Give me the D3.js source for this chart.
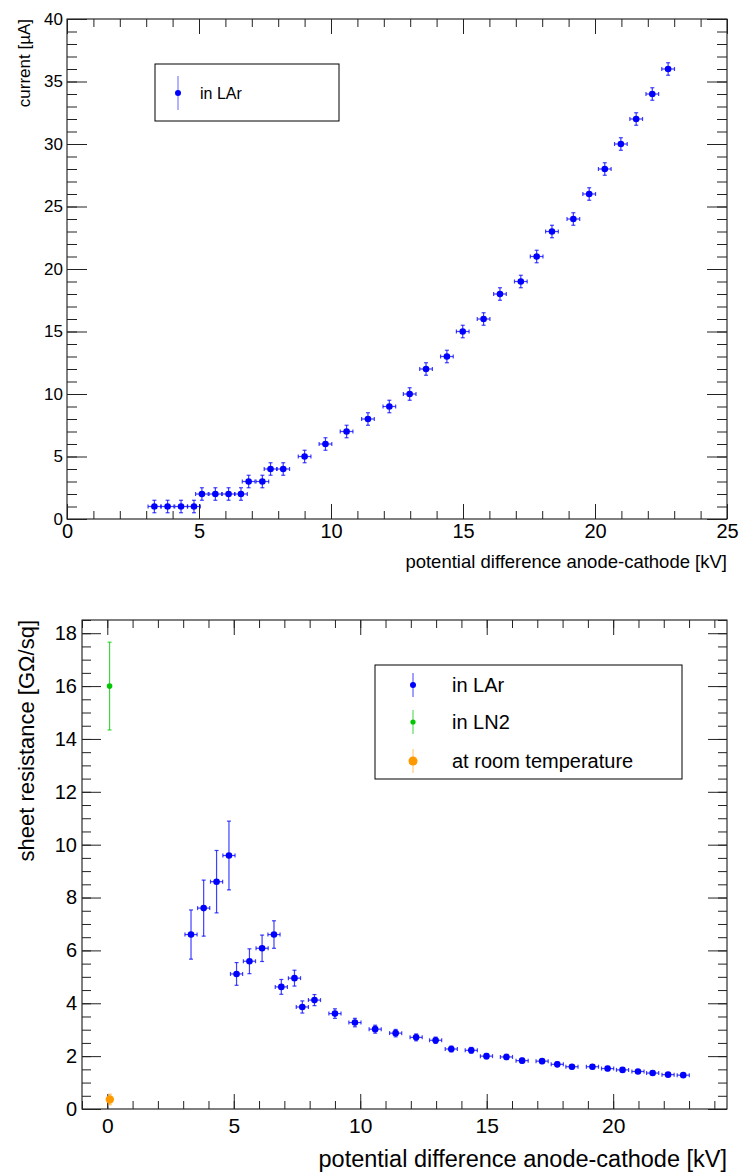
<!DOCTYPE html>
<html>
<head>
<meta charset="utf-8">
<script src="https://cdn.jsdelivr.net/npm/d3@7"></script>
<style>
  body { margin: 0; background: #fff; }
  text { font-family: "Liberation Sans", Arial, sans-serif; fill: #000; }
</style>
</head>
<body>
<div id="chart"></div>
<script>
// Data
const VOLTAGE_LAR = [3.31, 3.81, 4.32, 4.81, 5.11, 5.62, 6.12, 6.59, 6.88, 7.40, 7.71, 8.19,
  9.00, 9.79, 10.59, 11.40, 12.21, 12.98, 13.60, 14.39, 14.99, 15.78, 16.40, 17.19,
  17.79, 18.37, 19.18, 19.78, 20.37, 20.98, 21.56, 22.17, 22.77];
const CURRENT_LAR = [1, 1, 1, 1, 2, 2, 2, 2, 3, 3, 4, 4, 5, 6, 7, 8, 9, 10, 12, 13, 15, 16,
  18, 19, 21, 23, 24, 26, 28, 30, 32, 34, 36];
const VOLTAGE_ERR = 0.24;
const CURRENT_ERR = 0.5;

const RESIST_LAR = [6.60, 7.60, 8.60, 9.59, 5.11, 5.59, 6.08, 6.60, 4.62, 4.95, 3.86, 4.12,
  3.61, 3.27, 3.02, 2.87, 2.71, 2.60, 2.27, 2.22, 2.00, 1.97, 1.83, 1.81, 1.69, 1.60,
  1.60, 1.53, 1.48, 1.42, 1.36, 1.30, 1.28];
const RESIST_LAR_ERR = [0.93, 1.06, 1.18, 1.30, 0.43, 0.47, 0.50, 0.52, 0.28, 0.30, 0.23, 0.21,
  0.18, 0.16, 0.15, 0.14, 0.13, 0.12, 0.11, 0.11, 0.10, 0.10, 0.09, 0.09, 0.09, 0.08,
  0.08, 0.08, 0.07, 0.07, 0.07, 0.07, 0.07];

const VOLTAGE_LN2 = [0.09];
const RESIST_LN2 = [16.0];
const RESIST_LN2_ERR = [1.66];

const VOLTAGE_ROOM = [0.10];
const RESIST_ROOM = [0.36];
const RESIST_ROOM_ERR = [0.2];

const TOP_X_TICKS = [0, 5, 10, 15, 20, 25];
const TOP_Y_TICKS = [0, 5, 10, 15, 20, 25, 30, 35, 40];
const BOT_X_TICKS = [0, 5, 10, 15, 20];
const BOT_Y_TICKS = [0, 2, 4, 6, 8, 10, 12, 14, 16, 18];

const LEGEND_TOP = ["in LAr"];
const LEGEND_BOT = ["in LAr", "in LN2", "at room temperature"];

const BLUE = "#0000ff", GREEN = "#00c800", ORANGE = "#ff9900";

const svg = d3.select("#chart").append("svg")
  .attr("width", 739).attr("height", 1176);

// draws frame + inward ticks on all four sides
function drawFrame(g, x, y, w, h, opt) {
  g.append("rect").attr("x", 0).attr("y", 0).attr("width", w).attr("height", h)
    .attr("fill", "none").attr("stroke", "#000").attr("stroke-width", 1);

  const xMinor = d3.range(Math.ceil(x.domain()[0]), Math.floor(x.domain()[1]) + 1, 1);
  const yMinor = d3.range(0, y.domain()[1] + 0.001, opt.yMinorStep);

  const addAxis = (axis, tr) => {
    const a = g.append("g").attr("transform", tr).call(axis);
    a.select(".domain").remove();
    a.selectAll("line").attr("stroke", "#222");
    return a;
  };

  // bottom
  addAxis(d3.axisBottom(x).tickValues(xMinor).tickFormat("").tickSizeInner(-opt.xMin).tickSizeOuter(0),
    `translate(0,${h})`);
  const bx = addAxis(d3.axisBottom(x).tickValues(opt.xTicks).tickSizeInner(-opt.xMaj).tickSizeOuter(0)
    .tickPadding(opt.xPad), `translate(0,${h})`);
  bx.selectAll("text").style("font-size", opt.xFont + "px").attr("fill", "#000");
  // top
  addAxis(d3.axisTop(x).tickValues(xMinor).tickFormat("").tickSizeInner(-opt.xMin).tickSizeOuter(0), "translate(0,0)");
  addAxis(d3.axisTop(x).tickValues(opt.xTicks).tickFormat("").tickSizeInner(-opt.xMaj).tickSizeOuter(0), "translate(0,0)");
  // left
  addAxis(d3.axisLeft(y).tickValues(yMinor).tickFormat("").tickSizeInner(-opt.yMin).tickSizeOuter(0), "translate(0,0)");
  const ly = addAxis(d3.axisLeft(y).tickValues(opt.yTicks).tickSizeInner(-opt.yMaj).tickSizeOuter(0)
    .tickPadding(opt.yPad), "translate(0,0)");
  ly.selectAll("text").style("font-size", opt.yFont + "px").attr("fill", "#000");
  // right
  addAxis(d3.axisRight(y).tickValues(yMinor).tickFormat("").tickSizeInner(-opt.yMin).tickSizeOuter(0), `translate(${w},0)`);
  addAxis(d3.axisRight(y).tickValues(opt.yTicks).tickFormat("").tickSizeInner(-opt.yMaj).tickSizeOuter(0), `translate(${w},0)`);
}

// error bars with small end caps + marker
function drawPoints(g, x, y, xs, ys, yErr, xErr, color, r, lineColor) {
  const cap = 2;
  const pts = g.append("g");
  xs.forEach((xv, i) => {
    const px = x(xv), py = y(ys[i]);
    const ey = yErr[i];
    const sg = pts.append("g").attr("stroke", lineColor).attr("stroke-width", 1.2);
    sg.append("line").attr("x1", px).attr("x2", px).attr("y1", y(ys[i] - ey)).attr("y2", y(ys[i] + ey));
    sg.append("line").attr("x1", px - cap).attr("x2", px + cap).attr("y1", y(ys[i] - ey)).attr("y2", y(ys[i] - ey));
    sg.append("line").attr("x1", px - cap).attr("x2", px + cap).attr("y1", y(ys[i] + ey)).attr("y2", y(ys[i] + ey));
    if (xErr) {
      const ex = xErr[i];
      sg.append("line").attr("x1", x(xv - ex)).attr("x2", x(xv + ex)).attr("y1", py).attr("y2", py);
      sg.append("line").attr("x1", x(xv - ex)).attr("x2", x(xv - ex)).attr("y1", py - cap).attr("y2", py + cap);
      sg.append("line").attr("x1", x(xv + ex)).attr("x2", x(xv + ex)).attr("y1", py - cap).attr("y2", py + cap);
    }
    pts.append("circle").attr("cx", px).attr("cy", py).attr("r", r).attr("fill", color);
  });
}

// ---------- top chart: current vs voltage ----------
const T = {left: 67, top: 19, w: 660, h: 500};
const xTop = d3.scaleLinear().domain([0, 25]).range([0, T.w]);
const yTop = d3.scaleLinear().domain([0, 40]).range([T.h, 0]);
const gTop = svg.append("g").attr("transform", `translate(${T.left},${T.top})`);

drawFrame(gTop, xTop, yTop, T.w, T.h, {
  xTicks: TOP_X_TICKS, yTicks: TOP_Y_TICKS, yMinorStep: 1,
  xMaj: 15, xMin: 8, yMaj: 20, yMin: 10, xPad: 5, yPad: 4, xFont: 20, yFont: 17
});
drawPoints(gTop, xTop, yTop, VOLTAGE_LAR, CURRENT_LAR,
  CURRENT_LAR.map(() => CURRENT_ERR), VOLTAGE_LAR.map(() => VOLTAGE_ERR), BLUE, 3.3, "rgba(0,0,255,0.75)");

gTop.append("text").attr("x", T.w).attr("y", 549).attr("text-anchor", "end")
  .style("font-size", "18.5px").text("potential difference anode-cathode [kV]");
gTop.append("text").attr("transform", "translate(-37,0) rotate(-90)").attr("text-anchor", "end")
  .style("font-size", "17px").text("current [µA]");

// legend top
const lgTop = svg.append("g");
lgTop.append("rect").attr("x", 155).attr("y", 64).attr("width", 184).attr("height", 57)
  .attr("fill", "#fff").attr("stroke", "#000");
LEGEND_TOP.forEach((name, i) => {
  const cy = 93;
  lgTop.append("line").attr("x1", 178).attr("x2", 178).attr("y1", cy - 17).attr("y2", cy + 17)
    .attr("stroke", "rgba(0,0,255,0.6)");
  lgTop.append("circle").attr("cx", 178).attr("cy", cy).attr("r", 3).attr("fill", BLUE);
  lgTop.append("text").attr("x", 200).attr("y", cy + 6).style("font-size", "16px").text(name);
});

// ---------- bottom chart: sheet resistance ----------
const B = {left: 82, top: 620, w: 645, h: 489};
const xBot = d3.scaleLinear().domain([-1, 24.5]).range([0, B.w]);
const yBot = d3.scaleLinear().domain([0, 18.5]).range([B.h, 0]);
const gBot = svg.append("g").attr("transform", `translate(${B.left},${B.top})`);

drawFrame(gBot, xBot, yBot, B.w, B.h, {
  xTicks: BOT_X_TICKS, yTicks: BOT_Y_TICKS, yMinorStep: 0.5,
  xMaj: 15, xMin: 8, yMaj: 19, yMin: 9, xPad: 9, yPad: 5, xFont: 21, yFont: 20
});
drawPoints(gBot, xBot, yBot, VOLTAGE_LAR, RESIST_LAR, RESIST_LAR_ERR,
  VOLTAGE_LAR.map(() => VOLTAGE_ERR), BLUE, 3.3, "rgba(0,0,255,0.75)");
drawPoints(gBot, xBot, yBot, VOLTAGE_LN2, RESIST_LN2, RESIST_LN2_ERR, null, GREEN, 2.8, "rgba(0,200,0,0.75)");
drawPoints(gBot, xBot, yBot, VOLTAGE_ROOM, RESIST_ROOM, RESIST_ROOM_ERR, null, ORANGE, 4.2, "rgba(255,153,0,0.6)");

gBot.append("text").attr("x", B.w).attr("y", 1167 - B.top).attr("text-anchor", "end")
  .style("font-size", "23.5px").text("potential difference anode-cathode [kV]");
gBot.append("text").attr("transform", "translate(-48,0) rotate(-90)").attr("text-anchor", "end")
  .style("font-size", "22px").text("sheet resistance [GΩ/sq]");

// legend bottom
const lgBot = svg.append("g");
lgBot.append("rect").attr("x", 375).attr("y", 665).attr("width", 307).attr("height", 114)
  .attr("fill", "#fff").attr("stroke", "#000");
const legColors = [BLUE, GREEN, ORANGE];
const legLines = ["rgba(0,0,255,0.75)", "rgba(0,200,0,0.75)", "rgba(255,153,0,0.6)"];
const legR = [3, 2.6, 4.5];
const legY = [685, 722, 761];
LEGEND_BOT.forEach((name, i) => {
  const cy = legY[i];
  lgBot.append("line").attr("x1", 413).attr("x2", 413).attr("y1", cy - 12).attr("y2", cy + 12)
    .attr("stroke", legLines[i]);
  lgBot.append("circle").attr("cx", 413).attr("cy", cy).attr("r", legR[i]).attr("fill", legColors[i]);
  lgBot.append("text").attr("x", 452).attr("y", cy + 7).style("font-size", "20px").text(name);
});
</script>
</body>
</html>
